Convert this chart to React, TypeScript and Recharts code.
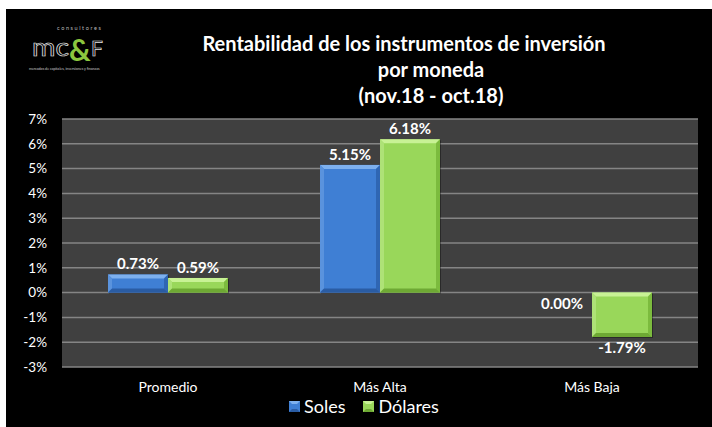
import { BarChart, Bar, XAxis, YAxis, CartesianGrid, LabelList } from 'recharts';

const categories = ['Promedio', 'Más Alta', 'Más Baja'];
const soles = [0.73, 5.15, 0.0];
const dolares = [0.59, 6.18, -1.79];
const yTicks = [-3, -2, -1, 0, 1, 2, 3, 4, 5, 6, 7];
const titleLines = [
  'Rentabilidad de los instrumentos de inversión',
  'por moneda',
  '(nov.18 - oct.18)',
];

const data = categories.map((name, i) => ({ name, soles: soles[i], dolares: dolares[i] }));

const FONT = 'Lato, "Open Sans", sans-serif';

type Pal = { face: string; top: string; left: string; right: string; bottom: string };

const palettes: Record<string, Pal> = {
  soles: { face: '#3f7fd4', top: '#7db0ee', left: '#5a93dd', right: '#2f66b3', bottom: '#2a5ca3' },
  dolares: { face: '#99d75a', top: '#c8f295', left: '#aee277', right: '#7cbb3e', bottom: '#6ea934' },
};

function BevelBar({ x, y, width, height, pal }: any) {
  const top = Math.min(y, y + height);
  const h = Math.abs(height);
  if (!h || h < 0.5) return null;
  const w = width;
  const b = Math.min(4, h / 2, w / 2);
  const l = x;
  const r = x + w;
  const bt = top + h;
  return (
    <g>
      <rect x={l + 1} y={top + 1} width={w} height={h} fill="rgba(0,0,0,0.35)" />
      <rect x={l} y={top} width={w} height={h} fill={pal.face} />
      <polygon points={`${l},${top} ${r},${top} ${r - b},${top + b} ${l + b},${top + b}`} fill={pal.top} />
      <polygon points={`${l},${top} ${l + b},${top + b} ${l + b},${bt - b} ${l},${bt}`} fill={pal.left} />
      <polygon points={`${r},${top} ${r},${bt} ${r - b},${bt - b} ${r - b},${top + b}`} fill={pal.right} />
      <polygon points={`${l},${bt} ${l + b},${bt - b} ${r - b},${bt - b} ${r},${bt}`} fill={pal.bottom} />
    </g>
  );
}

function ValueLabel({ x, y, width, height, value }: any) {
  const top = Math.min(y, y + height);
  const bottom = Math.max(y, y + height);
  const below = value <= 0;
  return (
    <text
      x={x + width / 2}
      y={below ? bottom + 16 : top - 5}
      textAnchor="middle"
      fill="#fff"
      fontSize={15}
      fontWeight="bold"
      fontFamily={FONT}
    >
      {Number(value).toFixed(2) + '%'}
    </text>
  );
}

function LegendIcon({ pal }: { pal: Pal }) {
  return (
    <svg width={11} height={11} style={{ display: 'block' }}>
      <rect x={0} y={0} width={11} height={11} fill={pal.face} />
      <polygon points="0,0 11,0 8,3 3,3" fill={pal.top} />
      <polygon points="0,11 3,8 8,8 11,11" fill={pal.bottom} />
    </svg>
  );
}

function LegendBox() {
  const items = [
    { label: 'Soles', pal: palettes.soles },
    { label: 'Dólares', pal: palettes.dolares },
  ];
  return (
    <div
      style={{
        position: 'absolute',
        left: 289,
        top: 396,
        display: 'flex',
        alignItems: 'center',
        fontFamily: FONT,
        fontSize: 18,
        color: '#fff',
      }}
    >
      {items.map((it, i) => (
        <div key={it.label} style={{ display: 'flex', alignItems: 'center', marginLeft: i ? 18 : 0 }}>
          <LegendIcon pal={it.pal} />
          <span style={{ marginLeft: 4, lineHeight: '20px' }}>{it.label}</span>
        </div>
      ))}
    </div>
  );
}

function Overlay() {
  return (
    <svg width={712} height={427} style={{ position: 'absolute', left: 0, top: 0, pointerEvents: 'none' }}>
      {titleLines.map((t, i) => (
        <text
          key={t}
          x={i === 0 ? 404 : 431}
          y={51 + i * 26}
          textAnchor="middle"
          fill="#fff"
          fontSize={20}
          fontWeight="bold"
          fontFamily={FONT}
        >
          {t}
        </text>
      ))}
      <text x={57} y={30} fill="#bbb" fontSize={5.5} letterSpacing={1.6} fontFamily={FONT}>
        consultores
      </text>
      <text
        x={32}
        y={56}
        fill="#000"
        stroke="#e8e8e8"
        strokeWidth={0.7}
        fontSize={25}
        textLength={37}
        lengthAdjust="spacingAndGlyphs"
        fontFamily={FONT}
      >
        mc
      </text>
      <text x={69} y={61} fill="#8cc63f" fontSize={30} fontWeight="bold" fontFamily={FONT}>
        &amp;
      </text>
      <text x={91} y={56} fill="#000" stroke="#e8e8e8" strokeWidth={0.7} fontSize={21} fontFamily={FONT}>
        F
      </text>
      <text x={29} y={70} fill="#ccc" fontSize={3.6} fontFamily={FONT}>
        mercados de capitales, inversiones y finanzas
      </text>
    </svg>
  );
}

export default function App() {
  return (
    <div style={{ position: 'absolute', left: 0, top: 0, width: 712, height: 427, background: '#fff' }}>
      <div style={{ position: 'absolute', left: 6, top: 9, width: 706, height: 418, background: '#000' }}>
        <BarChart
          width={706}
          height={418}
          data={data}
          margin={{ top: 110, right: 14, bottom: 30, left: 0 }}
          barSize={60}
          barGap={0}
        >
          <CartesianGrid vertical={false} fill="#404040" fillOpacity={1} stroke="#858585" strokeWidth={1.5} />
          <XAxis
            dataKey="name"
            height={30}
            axisLine={false}
            tickLine={false}
            tickSize={0}
            tickMargin={15}
            tick={{ fill: '#fff', fontSize: 14, fontFamily: FONT }}
          />
          <YAxis
            width={56}
            domain={[-3, 7]}
            ticks={yTicks}
            interval={0}
            axisLine={false}
            tickLine={false}
            tickSize={0}
            tickMargin={15}
            tickFormatter={(v) => `${v}%`}
            tick={{ fill: '#fff', fontSize: 13.5, fontFamily: FONT }}
          />
          <Bar
            dataKey="soles"
            name="Soles"
            isAnimationActive={false}
            shape={(p: any) => <BevelBar {...p} pal={palettes.soles} />}
          >
            <LabelList dataKey="soles" content={(p: any) => <ValueLabel {...p} />} />
          </Bar>
          <Bar
            dataKey="dolares"
            name="Dólares"
            isAnimationActive={false}
            shape={(p: any) => <BevelBar {...p} pal={palettes.dolares} />}
          >
            <LabelList dataKey="dolares" content={(p: any) => <ValueLabel {...p} />} />
          </Bar>
        </BarChart>
      </div>
      <LegendBox />
      <Overlay />
    </div>
  );
}
